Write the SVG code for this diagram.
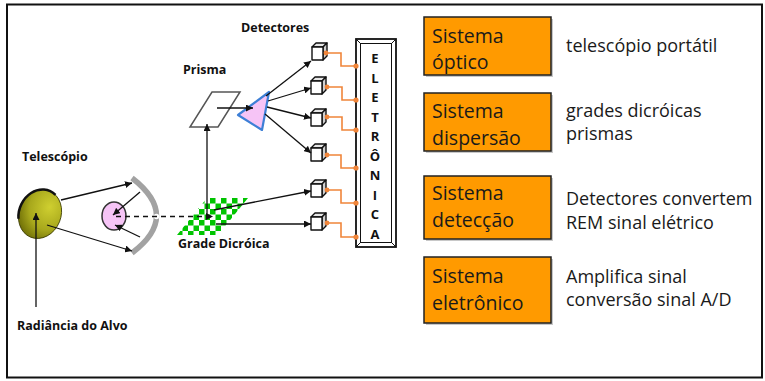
<svg xmlns="http://www.w3.org/2000/svg" width="765" height="381" viewBox="0 0 765 381">
  <style>
    .lbl { font-family: "Open Sans", "Liberation Sans", sans-serif; font-weight: 700; font-size: 12.5px; fill: #111; }
    .ele { font-family: "Open Sans", "Liberation Sans", sans-serif; font-weight: 700; font-size: 13px; fill: #111; text-anchor: middle; }
    .box { fill: #ff9a00; stroke: #222; stroke-width: 1.5; }
    .shadow { fill: #c8c8c8; }
    .btxt { font-family: "Open Sans", "Liberation Sans", sans-serif; font-size: 19.5px; fill: #1a1a1a; }
    .dtxt { font-family: "Open Sans", "Liberation Sans", sans-serif; font-size: 18px; fill: #1a1a1a; }
    .ray { stroke: #111; stroke-width: 1.3; fill: none; }
    .wire { stroke: #f0853a; stroke-width: 1.6; fill: none; }
    .pin { fill: #f0853a; }
  </style>
  <defs>
    <marker id="ah" viewBox="0 0 10 10" refX="10" refY="5" markerWidth="7" markerHeight="7" markerUnits="userSpaceOnUse" orient="auto">
      <path d="M0,0 L10,5 L0,10 z" fill="#111"/>
    </marker>
    <radialGradient id="olive" cx="0.65" cy="0.3" r="0.85">
      <stop offset="0" stop-color="#cfcf30"/>
      <stop offset="0.55" stop-color="#a8a81c"/>
      <stop offset="1" stop-color="#5c5c00"/>
    </radialGradient>
    <pattern id="checker" x="177" y="198" width="11" height="11" patternUnits="userSpaceOnUse">
      <rect width="11" height="11" fill="#ffffff"/>
      <rect width="5.5" height="5.5" fill="#00c400"/>
      <rect x="5.5" y="5.5" width="5.5" height="5.5" fill="#00c400"/>
    </pattern>
    <g id="cube" stroke="#111" stroke-width="1.4" stroke-linejoin="round">
      <path d="M0,4 L4,0 L15,0 L11,4 z" fill="#e6e6e6"/>
      <path d="M11,4 L15,0 L15,13 L11,17 z" fill="#d0d0d0"/>
      <path d="M0,4 L11,4 L11,17 L0,17 z" fill="#ffffff"/>
    </g>
  </defs>

  <rect x="0" y="0" width="765" height="381" fill="#ffffff"/>
  <!-- outer frame -->
  <rect x="7" y="4.5" width="755" height="373" fill="none" stroke="#111" stroke-width="2"/>

  <!-- labels -->
  <g id="labels">
    <text class="lbl" x="241" y="32">Detectores</text>
    <text class="lbl" x="183" y="74">Prisma</text>
    <text class="lbl" x="22" y="161">Telescópio</text>
    <text class="lbl" x="178" y="248">Grade Dicróica</text>
    <text class="lbl" x="17" y="330">Radiância do Alvo</text>
  </g>

  <!-- primary mirror -->
  <g id="primary-mirror">
    <ellipse cx="40" cy="214" rx="21" ry="25" transform="rotate(22 40 214)" fill="url(#olive)" stroke="#3a3a00" stroke-width="0.8"/>
    <path d="M-18.2,12.5 A21 25 0 0 1 7.2,-23.5" transform="translate(40 214) rotate(22)" fill="none" stroke="#111" stroke-width="2.5"/>
  </g>

  <!-- secondary mirror -->
  <g id="secondary-mirror">
    <ellipse cx="114" cy="216" rx="12" ry="14" fill="#f6c4f6" stroke="#333" stroke-width="1.5"/>
  </g>

  <!-- curved reflector -->
  <g id="reflector">
    <path d="M132,178 Q181,216 132,253" fill="none" stroke="#a2a2a2" stroke-width="5.5"/>
    <circle cx="156.5" cy="216.5" r="2.8" fill="#ffffff"/>
  </g>

  <!-- fold mirror -->
  <g id="fold-mirror">
    <path d="M212,92 L240,92 L218,127 L190,127 z" fill="#ffffff" stroke="#555" stroke-width="1.5"/>
  </g>

  <!-- prism -->
  <g id="prism">
    <path d="M238,115 L269,92 L262,130 z" fill="#f6c4f6" stroke="#3d7fd6" stroke-width="2.2" stroke-linejoin="round"/>
  </g>

  <!-- dichroic grating -->
  <g id="grating">
    <path d="M207,198 L248,198 L218,235 L177,235 z" fill="url(#checker)"/>
  </g>

  <!-- detectors -->
  <g id="detectors">
    <use id="det1" href="#cube" x="312" y="43"/>
    <use id="det2" href="#cube" x="311" y="77"/>
    <use id="det3" href="#cube" x="311" y="109"/>
    <use id="det4" href="#cube" x="311" y="144"/>
    <use id="det5" href="#cube" x="311" y="180"/>
    <use id="det6" href="#cube" x="311" y="213"/>
  </g>

  <!-- electronics unit -->
  <g id="electronics">
    <rect x="356" y="39" width="40" height="208" fill="#ffffff" stroke="#111" stroke-width="1.8"/>
    <rect x="360.5" y="43.5" width="31" height="199" fill="none" stroke="#111" stroke-width="1"/>
    <path d="M356,39 L360.5,43.5 M396,39 L391.5,43.5 M356,247 L360.5,242.5 M396,247 L391.5,242.5" stroke="#111" stroke-width="1"/>
    <text class="ele" x="375" y="63">E</text>
    <text class="ele" x="375" y="82.5">L</text>
    <text class="ele" x="375" y="102">E</text>
    <text class="ele" x="375" y="121.5">T</text>
    <text class="ele" x="375" y="141">R</text>
    <text class="ele" x="375" y="160.5">Ô</text>
    <text class="ele" x="375" y="180">N</text>
    <text class="ele" x="375" y="199.5">I</text>
    <text class="ele" x="375" y="219">C</text>
    <text class="ele" x="375" y="238.5">A</text>
  </g>

  <!-- light paths and signal wiring -->
  <g id="connectors">
    <line class="ray" x1="36" y1="307" x2="36" y2="213" marker-end="url(#ah)"/>
    <line class="ray" x1="61" y1="200" x2="132" y2="183" marker-end="url(#ah)"/>
    <line class="ray" x1="47" y1="225" x2="132" y2="251" marker-end="url(#ah)"/>
    <line class="ray" x1="140" y1="192" x2="113" y2="215" marker-end="url(#ah)"/>
    <line class="ray" x1="140" y1="237" x2="115" y2="225" marker-end="url(#ah)"/>
    <line class="ray" x1="116" y1="216.5" x2="213" y2="216.5" stroke-dasharray="5 4" marker-end="url(#ah)"/>
    <line class="ray" x1="207" y1="217" x2="207" y2="124" marker-end="url(#ah)"/>
    <line class="ray" x1="217" y1="108" x2="253" y2="108" marker-end="url(#ah)"/>
    <line class="ray" x1="266" y1="96" x2="311" y2="61" marker-end="url(#ah)"/>
    <line class="ray" x1="268" y1="101" x2="311" y2="88" marker-end="url(#ah)"/>
    <line class="ray" x1="267" y1="107" x2="311" y2="118" marker-end="url(#ah)"/>
    <line class="ray" x1="265" y1="114" x2="311" y2="153" marker-end="url(#ah)"/>
    <line class="ray" x1="214" y1="210" x2="311" y2="191" marker-end="url(#ah)"/>
    <line class="ray" x1="216" y1="224" x2="311" y2="224" marker-end="url(#ah)"/>

    <path class="wire" d="M326,53 H341 V66 H356"/>
    <path class="wire" d="M327,87 H342 V100 H356"/>
    <path class="wire" d="M327,117 H342 V130 H356"/>
    <path class="wire" d="M327,155 H341 V168 H356"/>
    <path class="wire" d="M327,190 H341 V203 H356"/>
    <path class="wire" d="M327,223 H341 V237 H356"/>
    <g class="pin">
      <circle cx="326" cy="53" r="2.4"/><circle cx="356" cy="66" r="2.6"/>
      <circle cx="327" cy="87" r="2.4"/><circle cx="356" cy="100" r="2.6"/>
      <circle cx="327" cy="117" r="2.4"/><circle cx="356" cy="130" r="2.6"/>
      <circle cx="327" cy="155" r="2.4"/><circle cx="356" cy="168" r="2.6"/>
      <circle cx="327" cy="190" r="2.4"/><circle cx="356" cy="203" r="2.6"/>
      <circle cx="327" cy="223" r="2.4"/><circle cx="356" cy="237" r="2.6"/>
    </g>
  </g>

  <!-- subsystem legend -->
  <g id="sys-optico">
    <rect class="shadow" x="426" y="19" width="127" height="58"/>
    <rect class="box" x="424" y="17" width="127" height="58"/>
    <text class="btxt" x="432" y="43">Sistema</text>
    <text class="btxt" x="432" y="69">óptico</text>
    <text class="dtxt" x="566" y="52">telescópio portátil</text>
  </g>
  <g id="sys-dispersao">
    <rect class="shadow" x="426" y="95" width="127" height="58"/>
    <rect class="box" x="424" y="93" width="127" height="58"/>
    <text class="btxt" x="432" y="118">Sistema</text>
    <text class="btxt" x="432" y="145">dispersão</text>
    <text class="dtxt" x="566" y="117">grades dicróicas</text>
    <text class="dtxt" x="566" y="140">prismas</text>
  </g>
  <g id="sys-deteccao">
    <rect class="shadow" x="426" y="178" width="127" height="63"/>
    <rect class="box" x="424" y="176" width="127" height="63"/>
    <text class="btxt" x="432" y="200">Sistema</text>
    <text class="btxt" x="432" y="227">detecção</text>
    <text class="dtxt" x="566" y="205">Detectores convertem</text>
    <text class="dtxt" x="566" y="229">REM sinal elétrico</text>
  </g>
  <g id="sys-eletronico">
    <rect class="shadow" x="426" y="259" width="127" height="66"/>
    <rect class="box" x="424" y="257" width="127" height="66"/>
    <text class="btxt" x="432" y="283">Sistema</text>
    <text class="btxt" x="432" y="310">eletrônico</text>
    <text class="dtxt" x="566" y="283">Amplifica sinal</text>
    <text class="dtxt" x="566" y="306">conversão sinal A/D</text>
  </g>
</svg>
